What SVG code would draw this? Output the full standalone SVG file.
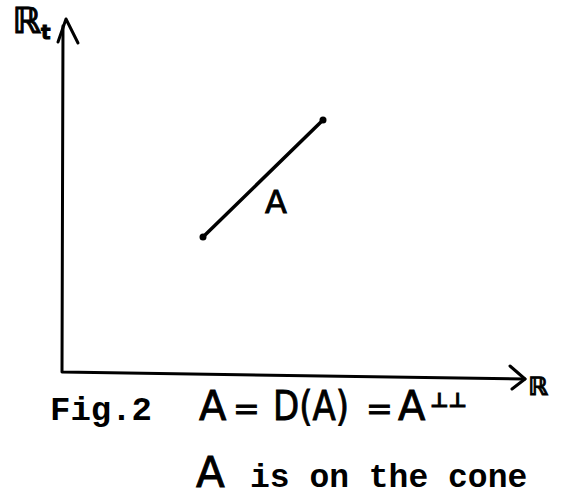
<svg xmlns="http://www.w3.org/2000/svg" width="562" height="497" viewBox="0 0 562 497">
<style>
.ln{fill:none;stroke:#000;stroke-linecap:round;stroke-linejoin:round}
.hw{font-family:"DejaVu Sans","Liberation Sans",sans-serif;fill:#000;stroke:#000;stroke-width:0.9}
.tt{font-family:"Liberation Mono","Courier New",monospace;font-weight:bold;fill:#000}
</style>
<rect width="562" height="497" fill="#fff"/>
<g id="axes">
<path class="ln" stroke-width="3" d="M63,26 L62,372 L525,379"/>
<path class="ln" stroke-width="3" d="M58,42 L66,19 L78,43"/>
<path class="ln" stroke-width="3" d="M510,366 L525,379 L512,389"/>
</g>
<g id="axis-labels">
<text class="hw" x="12" y="33" font-size="36" font-weight="bold">ℝ</text>
<text class="hw" x="41" y="39" font-size="20" font-weight="bold">t</text>
<text class="hw" x="528" y="395" font-size="25" font-weight="bold">ℝ</text>
</g>
<g id="segment-A">
<line class="ln" stroke-width="3.5" x1="203" y1="237" x2="323" y2="120"/>
<circle cx="203" cy="237" r="3.5" fill="#000"/>
<circle cx="323" cy="120" r="3.5" fill="#000"/>
<text class="hw" x="265" y="213" font-size="32">A</text>
</g>
<g id="caption">
<text class="tt" x="50" y="420" font-size="34">Fig.2</text>
<text class="hw" x="199" y="420" font-size="40">A</text>
<text class="hw" x="233" y="420" font-size="32">=</text>
<text class="hw" x="273" y="420" font-size="40" textLength="76" lengthAdjust="spacingAndGlyphs">D(A)</text>
<text class="hw" x="366" y="420" font-size="32">=</text>
<text class="hw" x="398" y="420" font-size="40">A</text>
<text class="hw" x="430" y="407" font-size="20" font-weight="bold">⊥⊥</text>
<text class="hw" x="196" y="487" font-size="42">A</text>
<text class="tt" x="250" y="487" font-size="33">is on the cone</text>
</g>
</svg>
